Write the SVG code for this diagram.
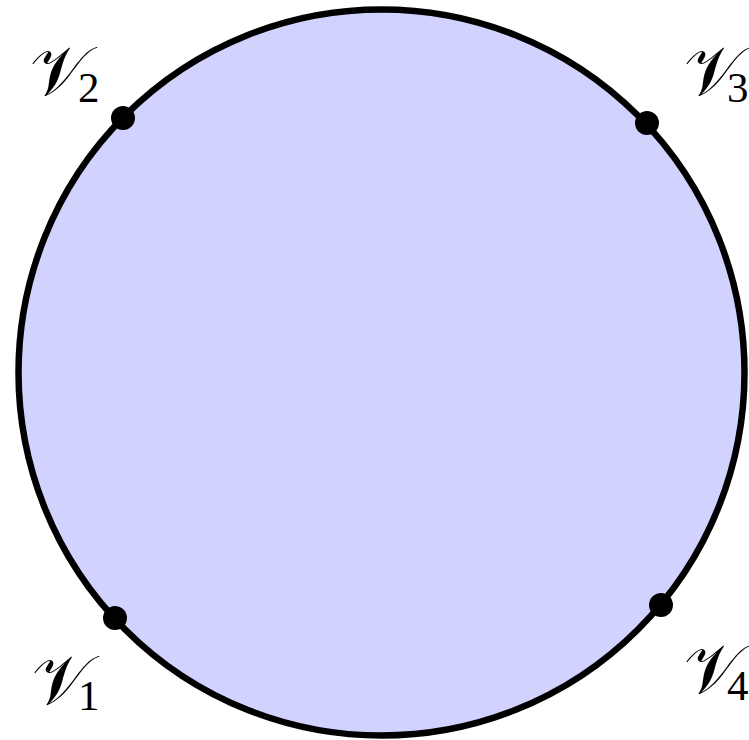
<svg xmlns="http://www.w3.org/2000/svg" width="749" height="740" viewBox="0 0 749 740">
<style>
.v{font-family:"DejaVu Serif","DejaVu Sans","Liberation Serif",serif;font-size:70px;fill:#000}
.s{font-family:"Liberation Serif",serif;font-size:43px;fill:#000}
.dot{fill:#000}
</style>
<rect width="749" height="740" fill="#fff"/>
<g id="disk">
<circle cx="381.5" cy="372.5" r="363" fill="#d2d2ff" stroke="#000" stroke-width="6.5"/>
</g>
<g id="v1"><circle class="dot" cx="115" cy="618" r="12"/><text x="32" y="704" class="v">𝒱</text><text x="78" y="710" class="s">1</text></g>
<g id="v2"><circle class="dot" cx="123" cy="118" r="12"/><text x="30" y="95" class="v">𝒱</text><text x="78" y="102" class="s">2</text></g>
<g id="v3"><circle class="dot" cx="647" cy="123" r="12"/><text x="684" y="95" class="v">𝒱</text><text x="727" y="102" class="s">3</text></g>
<g id="v4"><circle class="dot" cx="661" cy="605" r="12"/><text x="684" y="693" class="v">𝒱</text><text x="727" y="700" class="s">4</text></g>
</svg>
